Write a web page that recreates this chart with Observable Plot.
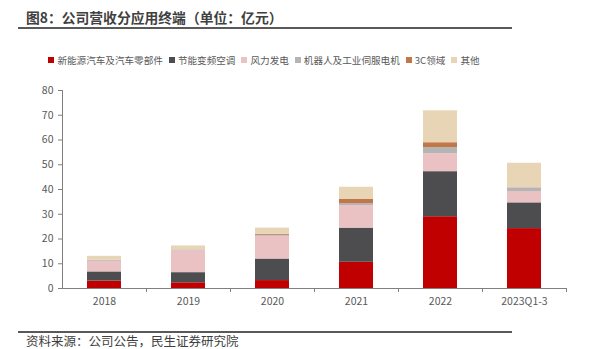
<!DOCTYPE html>
<html><head><meta charset="utf-8">
<script src="https://cdn.jsdelivr.net/npm/d3@7"></script>
<script src="https://cdn.jsdelivr.net/npm/@observablehq/plot@0.6"></script>
<style>
body{margin:0;background:#fff;font-family:"Noto Sans CJK SC","Noto Sans",sans-serif;}
#wrap{position:relative;width:604px;height:349px;overflow:hidden;}
#title{position:absolute;left:26px;top:7px;font-size:13.8px;font-weight:bold;color:#404040;white-space:nowrap;line-height:20px;}
.hline{position:absolute;left:18px;width:494px;height:1.5px;background:#595959;}
#legend{position:absolute;left:0;width:604px;top:52px;display:flex;justify-content:center;padding-right:70px;box-sizing:border-box;font-size:9.6px;color:#595959;white-space:nowrap;line-height:16px;}
#legend .it{display:flex;align-items:center;margin-right:6px;}
#legend .sw{width:6px;height:6px;margin-right:3px;}
#caption{position:absolute;left:26px;top:334px;font-size:12.5px;color:#404040;white-space:nowrap;line-height:14px;}
#chart{position:absolute;left:0;top:80px;}
</style></head>
<body>
<div id="wrap">
  <div id="title">图8：公司营收分应用终端（单位：亿元）</div>
  <div class="hline" style="top:27px"></div>
  <div id="legend"></div>
  <div id="chart"></div>
  <div class="hline" style="top:331px"></div>
  <div id="caption">资料来源：公司公告，民生证券研究院</div>
</div>
<script>
const categories = ["2018","2019","2020","2021","2022","2023Q1-3"];
const seriesNames = ["新能源汽车及汽车零部件","节能变频空调","风力发电","机器人及工业伺服电机","3C领域","其他"];
const seriesColors = ["#C00000","#4D4D4F","#EBC2C3","#B4B4B4","#C0784A","#E8D5B5"];
const evParts   = [3.0, 2.3, 3.2, 10.6, 29.0, 24.2];
const hvac      = [3.7, 4.1, 8.7, 13.8, 18.2, 10.4];
const wind      = [4.3, 8.8, 9.2, 9.1, 7.3, 4.6];
const robot     = [0.4, 0.4, 0.4, 0.8, 2.4, 1.5];
const c3        = [0.0, 0.0, 0.4, 1.8, 2.0, 0.0];
const others    = [1.6, 1.6, 2.5, 4.8, 12.9, 9.9];
const yTicks = [0,10,20,30,40,50,60,70,80];

const seriesValues = [evParts, hvac, wind, robot, c3, others];
const data = [];
seriesNames.forEach((s, si) => categories.forEach((c, ci) => data.push({cat: c, series: s, value: seriesValues[si][ci]})));

const leg = document.getElementById("legend");
seriesNames.forEach((s, i) => {
  const it = document.createElement("div"); it.className = "it";
  const sw = document.createElement("div"); sw.className = "sw"; sw.style.background = seriesColors[i];
  const tx = document.createElement("span"); tx.textContent = s;
  it.appendChild(sw); it.appendChild(tx); leg.appendChild(it);
});

const plot = Plot.plot({
  width: 604, height: 240,
  marginLeft: 62, marginRight: 38, marginTop: 10, marginBottom: 32,
  style: {fontFamily: "'Noto Sans CJK SC','Noto Sans',sans-serif", fontSize: "10px", color: "#595959", background: "transparent"},
  x: {domain: categories, paddingInner: 0.6, paddingOuter: 0.3, label: null},
  y: {domain: [0, 80], label: null},
  color: {domain: seriesNames, range: seriesColors},
  marks: [
    Plot.barY(data, {x: "cat", y: "value", fill: "series", order: seriesNames}),
    Plot.axisY({ticks: yTicks, tickSize: 4, tickPadding: 5, stroke: "#808080", fill: "#595959", label: null, fontSize: 10.5}),
    Plot.frame({anchor: "left", stroke: "#808080"}),
    Plot.ruleY([0], {stroke: "#808080"}),
    Plot.ruleX(categories, {x: d => d, y1: 0, y2: 0, dx: 42, insetBottom: -4, stroke: "#808080"}),
    Plot.axisX({tickSize: 0, tickPadding: 9, fill: "#595959", label: null, fontSize: 10.5})
  ]
});
document.getElementById("chart").appendChild(plot);
</script>
</body></html>
